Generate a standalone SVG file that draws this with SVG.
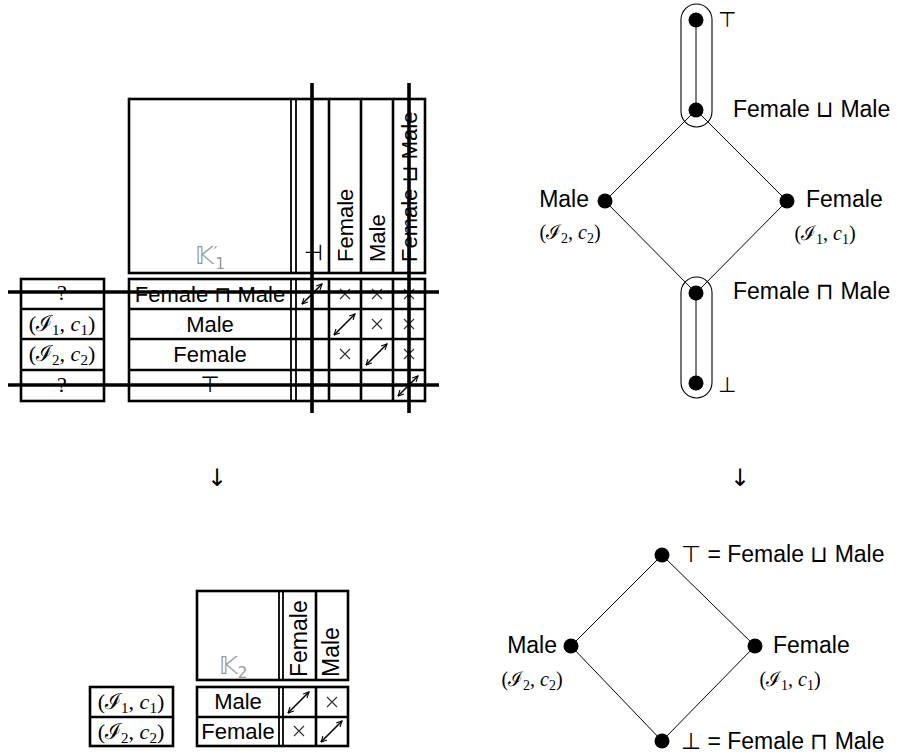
<svg xmlns="http://www.w3.org/2000/svg" width="909" height="754" viewBox="0 0 909 754">
<defs>
<style>
.b{fill:none;stroke:#000;stroke-width:2.6}
.d{fill:none;stroke:#000;stroke-width:1.8}
.s{fill:none;stroke:#000;stroke-width:3.6}
.x{fill:none;stroke:#333;stroke-width:1.2}
.e{fill:none;stroke:#000;stroke-width:1}
.cap{fill:none;stroke:#000;stroke-width:1.1}
.da{fill:none;stroke:#000;stroke-width:1.6;marker-start:url(#ah);marker-end:url(#ah)}
.t{font-family:"Liberation Sans","DejaVu Sans",sans-serif;font-size:22px;fill:#000}
.lt{font-family:"Liberation Sans","DejaVu Sans",sans-serif;font-size:23px;fill:#000}
.ar{font-family:"DejaVu Sans",sans-serif;font-size:24px;fill:#000}
.m{font-family:"Liberation Serif","DejaVu Serif",serif;font-size:22px;fill:#000}
.ml{font-family:"Liberation Serif","DejaVu Serif",serif;font-size:20px;fill:#000}
.k{font-family:"DejaVu Sans",sans-serif;font-size:25px;fill:#999}
.i{font-style:italic}
.dot{fill:#000}
</style>
<marker id="ah" viewBox="0 0 10 10" refX="9" refY="5" markerWidth="7" markerHeight="7" markerUnits="userSpaceOnUse" orient="auto-start-reverse">
<path d="M1,1 L9,5 L1,9" fill="none" stroke="#000" stroke-width="1.6"/>
</marker>
</defs>

<!-- Top-left context table -->
<g id="table1">
<g id="table1-header">
<rect class="b" x="129" y="99" width="296" height="174"/>
<line class="d" x1="291" y1="99" x2="291" y2="273"/>
<line class="d" x1="296" y1="99" x2="296" y2="273"/>
<line class="b" x1="329" y1="99" x2="329" y2="273"/>
<line class="b" x1="361" y1="99" x2="361" y2="273"/>
<line class="b" x1="393" y1="99" x2="393" y2="273"/>
<text class="k" x="195" y="264">𝕂<tspan style="font-size:16px" dy="-6">′</tspan><tspan style="font-size:15px" dx="-2" dy="11">1</tspan></text>
<text class="t" transform="translate(321,262) rotate(-90)">⊥</text>
<text class="t" transform="translate(353,262) rotate(-90)">Female</text>
<text class="t" transform="translate(385,262) rotate(-90)">Male</text>
<text class="t" transform="translate(417,262) rotate(-90)">Female ⊔ Male</text>
</g>
<g id="table1-rows">
<rect class="b" x="129" y="279" width="296" height="122"/>
<line class="b" x1="129" y1="309" x2="425" y2="309"/>
<line class="b" x1="129" y1="339" x2="425" y2="339"/>
<line class="b" x1="129" y1="370" x2="425" y2="370"/>
<line class="d" x1="291" y1="279" x2="291" y2="401"/>
<line class="d" x1="296" y1="279" x2="296" y2="401"/>
<line class="b" x1="329" y1="279" x2="329" y2="401"/>
<line class="b" x1="361" y1="279" x2="361" y2="401"/>
<line class="b" x1="393" y1="279" x2="393" y2="401"/>
<text class="t" x="210" y="302" text-anchor="middle">Female ⊓ Male</text>
<text class="t" x="210" y="332" text-anchor="middle">Male</text>
<text class="t" x="210" y="362" text-anchor="middle">Female</text>
<text class="t" x="210" y="392" text-anchor="middle">⊤</text>
</g>
<g id="table1-left">
<rect class="b" x="21" y="279" width="83" height="122"/>
<line class="b" x1="21" y1="309" x2="104" y2="309"/>
<line class="b" x1="21" y1="339" x2="104" y2="339"/>
<line class="b" x1="21" y1="370" x2="104" y2="370"/>
<text class="m" x="62" y="300" text-anchor="middle">?</text>
<text class="m" x="62" y="331" text-anchor="middle">(ℐ<tspan style="font-size:15px" dy="4">1</tspan><tspan dy="-4">, </tspan><tspan class="i">c</tspan><tspan style="font-size:15px" dy="4">1</tspan><tspan dy="-4">)</tspan></text>
<text class="m" x="62" y="361" text-anchor="middle">(ℐ<tspan style="font-size:15px" dy="4">2</tspan><tspan dy="-4">, </tspan><tspan class="i">c</tspan><tspan style="font-size:15px" dy="4">2</tspan><tspan dy="-4">)</tspan></text>
<text class="m" x="62" y="392" text-anchor="middle">?</text>
</g>
<g id="table1-cells">
<path class="x" d="M340,289 l10,10 M350,289 l-10,10"/>
<path class="x" d="M372,289 l10,10 M382,289 l-10,10"/>
<path class="x" d="M404,289 l10,10 M414,289 l-10,10"/>
<path class="x" d="M372,319 l10,10 M382,319 l-10,10"/>
<path class="x" d="M404,319 l10,10 M414,319 l-10,10"/>
<path class="x" d="M340,349 l10,10 M350,349 l-10,10"/>
<path class="x" d="M404,349 l10,10 M414,349 l-10,10"/>
<line class="da" x1="302" y1="304" x2="322" y2="284"/>
<line class="da" x1="334" y1="335" x2="355" y2="314"/>
<line class="da" x1="366" y1="365" x2="387" y2="344"/>
<line class="da" x1="398" y1="396" x2="418" y2="376"/>
</g>
<g id="table1-strikes">
<line class="s" x1="312" y1="83" x2="312" y2="413"/>
<line class="s" x1="409" y1="83" x2="409" y2="413"/>
<line class="s" x1="8" y1="292" x2="439" y2="292"/>
<line class="s" x1="8" y1="385" x2="439" y2="385"/>
</g>
</g>

<!-- Top-right lattice -->
<g id="lattice1">
<g id="lattice1-connectors">
<line class="e" x1="696" y1="20" x2="696" y2="110"/>
<line class="e" x1="696" y1="110" x2="605" y2="201"/>
<line class="e" x1="696" y1="110" x2="787" y2="201"/>
<line class="e" x1="605" y1="201" x2="696" y2="293"/>
<line class="e" x1="787" y1="201" x2="696" y2="293"/>
<line class="e" x1="696" y1="293" x2="696" y2="383"/>
</g>
<rect id="cap-top" class="cap" x="681" y="4" width="31" height="123" rx="15.5"/>
<rect id="cap-bottom" class="cap" x="681" y="277" width="31" height="121" rx="15.5"/>
<g id="n-top"><circle class="dot" cx="696" cy="20" r="7.5"/><text class="lt" x="718" y="27" style="font-size:21px">⊤</text></g>
<g id="n-join"><circle class="dot" cx="696" cy="110" r="7.5"/><text class="lt" x="733" y="117">Female ⊔ Male</text></g>
<g id="n-male"><circle class="dot" cx="605" cy="201" r="7.5"/><text class="lt" x="589" y="207" text-anchor="end">Male</text>
<text class="ml" x="570" y="239" text-anchor="middle">(ℐ<tspan style="font-size:14px" dy="4">2</tspan><tspan dy="-4">, </tspan><tspan class="i">c</tspan><tspan style="font-size:14px" dy="4">2</tspan><tspan dy="-4">)</tspan></text></g>
<g id="n-female"><circle class="dot" cx="787" cy="201" r="7.5"/><text class="lt" x="806" y="207">Female</text>
<text class="ml" x="825" y="240" text-anchor="middle">(ℐ<tspan style="font-size:14px" dy="4">1</tspan><tspan dy="-4">, </tspan><tspan class="i">c</tspan><tspan style="font-size:14px" dy="4">1</tspan><tspan dy="-4">)</tspan></text></g>
<g id="n-meet"><circle class="dot" cx="696" cy="293" r="7.5"/><text class="lt" x="733" y="299">Female ⊓ Male</text></g>
<g id="n-bottom"><circle class="dot" cx="696" cy="383" r="7.5"/><text class="lt" x="718" y="392" style="font-size:21px">⊥</text></g>
</g>

<!-- Down arrows -->
<g id="arrows-down">
<text class="ar" x="217" y="486" text-anchor="middle">↓</text>
<text class="ar" x="740" y="486" text-anchor="middle">↓</text>
</g>

<!-- Bottom-left context table -->
<g id="table2">
<g id="table2-header">
<rect class="b" x="197" y="591" width="151" height="89"/>
<line class="d" x1="279" y1="591" x2="279" y2="680"/>
<line class="d" x1="283" y1="591" x2="283" y2="680"/>
<line class="b" x1="316" y1="591" x2="316" y2="680"/>
<text class="k" x="219" y="674">𝕂<tspan style="font-size:15px" dy="4">2</tspan></text>
<text class="t" transform="translate(307,677) rotate(-90)" style="font-size:23px">Female</text>
<text class="t" transform="translate(339,677) rotate(-90)" style="font-size:23px">Male</text>
</g>
<g id="table2-rows">
<rect class="b" x="197" y="687" width="151" height="59"/>
<line class="b" x1="197" y1="717" x2="348" y2="717"/>
<line class="d" x1="279" y1="687" x2="279" y2="746"/>
<line class="d" x1="283" y1="687" x2="283" y2="746"/>
<line class="b" x1="316" y1="687" x2="316" y2="746"/>
<text class="t" x="238" y="709" text-anchor="middle">Male</text>
<text class="t" x="238" y="739" text-anchor="middle">Female</text>
</g>
<g id="table2-left">
<rect class="b" x="90" y="687" width="83" height="59"/>
<line class="b" x1="90" y1="717" x2="173" y2="717"/>
<text class="m" x="131" y="709" text-anchor="middle">(ℐ<tspan style="font-size:15px" dy="4">1</tspan><tspan dy="-4">, </tspan><tspan class="i">c</tspan><tspan style="font-size:15px" dy="4">1</tspan><tspan dy="-4">)</tspan></text>
<text class="m" x="131" y="739" text-anchor="middle">(ℐ<tspan style="font-size:15px" dy="4">2</tspan><tspan dy="-4">, </tspan><tspan class="i">c</tspan><tspan style="font-size:15px" dy="4">2</tspan><tspan dy="-4">)</tspan></text>
</g>
<g id="table2-cells">
<path class="x" d="M327,697 l10,10 M337,697 l-10,10"/>
<path class="x" d="M294,726 l10,10 M304,726 l-10,10"/>
<line class="da" x1="288" y1="713" x2="309" y2="692"/>
<line class="da" x1="321" y1="742" x2="342" y2="721"/>
</g>
</g>

<!-- Bottom-right lattice -->
<g id="lattice2">
<g id="lattice2-connectors">
<line class="e" x1="662" y1="555" x2="571" y2="646"/>
<line class="e" x1="662" y1="555" x2="755" y2="646"/>
<line class="e" x1="571" y1="646" x2="662" y2="741"/>
<line class="e" x1="755" y1="646" x2="662" y2="741"/>
</g>
<g id="m-top"><circle class="dot" cx="662" cy="555" r="7.5"/><text class="lt" x="681" y="562">⊤ = Female ⊔ Male</text></g>
<g id="m-male"><circle class="dot" cx="571" cy="646" r="7.5"/><text class="lt" x="557" y="653" text-anchor="end">Male</text>
<text class="ml" x="532" y="686" text-anchor="middle">(ℐ<tspan style="font-size:14px" dy="4">2</tspan><tspan dy="-4">, </tspan><tspan class="i">c</tspan><tspan style="font-size:14px" dy="4">2</tspan><tspan dy="-4">)</tspan></text></g>
<g id="m-female"><circle class="dot" cx="755" cy="646" r="7.5"/><text class="lt" x="773" y="653">Female</text>
<text class="ml" x="790" y="686" text-anchor="middle">(ℐ<tspan style="font-size:14px" dy="4">1</tspan><tspan dy="-4">, </tspan><tspan class="i">c</tspan><tspan style="font-size:14px" dy="4">1</tspan><tspan dy="-4">)</tspan></text></g>
<g id="m-bottom"><circle class="dot" cx="662" cy="741" r="7.5"/><text class="lt" x="681" y="749">⊥ = Female ⊓ Male</text></g>
</g>
</svg>
